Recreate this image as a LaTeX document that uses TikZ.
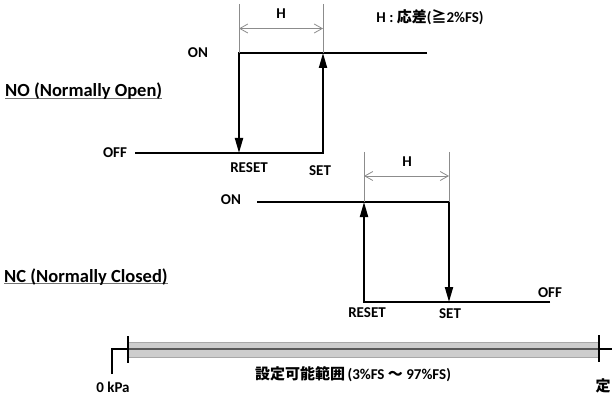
\documentclass[tikz,border=0pt]{standalone}
\usepackage{fontspec}
\setmainfont{Carlito}
\newfontfamily\jpfont{Noto Sans CJK JP}
\usetikzlibrary{arrows.meta, calc, positioning}
\definecolor{bandgray}{HTML}{CDCDCD}
\definecolor{edgegray}{HTML}{A8A8A8}
\definecolor{dimgray}{HTML}{8C8C8C}
\newlength{\ulwidth}
\newcommand{\wordul}[1]{\settowidth{\ulwidth}{#1}\rlap{\color{black!55}\rule[-2.4pt]{\ulwidth}{1.3pt}}#1}
\tikzstyle{lbl} = [font=\fontsize{15}{18}\selectfont\bfseries, inner sep=0pt]
\tikzstyle{title} = [font=\fontsize{18.5}{22}\selectfont\bfseries, inner sep=0pt, anchor=base west]
\tikzstyle{signal} = [line width=2pt, black, line join=miter]
\tikzstyle{arrow} = [signal, -{Triangle[length=15pt,width=8pt]}]
\tikzstyle{dimline} = [line width=0.8pt, dimgray]
\tikzstyle{dimarrow} = [dimline, {Straight Barb[length=8pt,width=9pt]}-{Straight Barb[length=8pt,width=9pt]}]

\begin{document}
\begin{tikzpicture}[x=1pt, y=-1pt]
		\useasboundingbox (0,0) rectangle (612,398);
		
		% NO (Normally Open)
		\node (NOtitle) [title] at (5,97) {\wordul{NO (Normally Open)}};
		\coordinate (NOoffL) at (135,153);
		\coordinate (NOreset) at (239,153);
		\coordinate (NOset) at (323,153);
		\coordinate (NOresetTop) at (239,53);
		\coordinate (NOsetTop) at (323,53);
		\coordinate (NOonR) at (427,53);
		\draw [arrow] (NOonR) -- (NOresetTop) -- (NOreset);
		\draw [arrow] (NOoffL) -- (NOset) -- (NOsetTop);
		\node (NOoff) [lbl] at (115,153) {OFF};
		\node (NOon) [lbl] at (198,53) {ON};
		\node (NOresetLbl) [lbl] at (249,168) {RESET};
		\node (NOsetLbl) [lbl] at (320,171) {SET};
		
		% hysteresis H (top)
		\coordinate (NOdimL) at (239,4);
		\coordinate (NOdimR) at (323,4);
		\draw [dimline] (NOdimL) -- (NOresetTop);
		\draw [dimline] (NOdimR) -- (NOsetTop);
		\draw [dimarrow] ($(NOdimL)!0.5!(NOresetTop)$) -- ($(NOdimR)!0.5!(NOsetTop)$);
		\node (NOh) [lbl] at (281,14) {H};
		\node (Legend) [lbl] at (430,17) {H : {\jpfont\bfseries 応差}({\jpfont\bfseries ≧}2\%FS)};
		
		% NC (Normally Closed)
		\node (NCtitle) [title] at (4,282) {\wordul{NC (Normally Closed)}};
		\coordinate (NConL) at (257,202);
		\coordinate (NCresetTop) at (364,202);
		\coordinate (NCsetTop) at (449,202);
		\coordinate (NCreset) at (364,302);
		\coordinate (NCset) at (449,302);
		\coordinate (NCoffR) at (550,302);
		\draw [arrow] (NConL) -- (NCsetTop) -- (NCset);
		\draw [arrow] (NCoffR) -- (NCreset) -- (NCresetTop);
		\node (NCon) [lbl] at (231,200) {ON};
		\node (NCoff) [lbl] at (550,293) {OFF};
		\node (NCresetLbl) [lbl] at (367,313) {RESET};
		\node (NCsetLbl) [lbl] at (450,314) {SET};
		
		% hysteresis H (bottom)
		\coordinate (NCdimL) at (364,152);
		\coordinate (NCdimR) at (449,152);
		\draw [dimline] (NCdimL) -- (NCresetTop);
		\draw [dimline] (NCdimR) -- (NCsetTop);
		\draw [dimarrow] (364,176) -- (449,176);
		\node (NCh) [lbl] at (407,162) {H};
		
		% setting range bar
		\coordinate (BarL) at (128,349);
		\coordinate (BarR) at (599,349);
		\coordinate (Zero) at (112,349);
		\coordinate (ZeroLow) at (112,374);
		\coordinate (RightEnd) at (612,349);
		\fill [bandgray] (128,342) rectangle (599,358);
		\draw [edgegray, line width=0.8pt] (128,342.5) -- (599,342.5) (128,357.5) -- (599,357.5);
		\draw [black!65, line width=1.2pt] (BarL) -- (BarR);
		\draw [black, line width=1.5pt] (ZeroLow) -- (Zero) -- (BarL);
		\draw [black, line width=1.5pt] (BarR) -- (RightEnd);
		\draw [black, line width=2pt] (128,336) -- (128,363);
		\draw [black, line width=2pt] (599,335) -- (599,362);
		\node (ZeroLbl) [lbl] at (113,387) {0 kPa};
		\node (RangeLbl) [lbl] at (353,374) {{\jpfont\bfseries 設定可能範囲}\,(3\%FS {\jpfont\bfseries ～} 97\%FS)};
		\node (FullLbl) [lbl] at (603,386) {\jpfont\bfseries 定};
\end{tikzpicture}
\end{document}
